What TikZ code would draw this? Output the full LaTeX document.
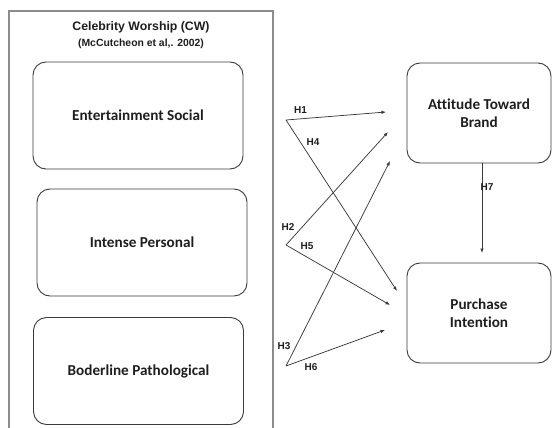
\documentclass[tikz,border=0pt]{standalone}
\usepackage{fontspec}
\setmainfont{Carlito}[Ligatures=NoCommon]
\newfontfamily\arialfont{Liberation Sans}
\usetikzlibrary{arrows.meta}
\definecolor{ink}{HTML}{1E1E1E}
\definecolor{edge}{HTML}{3A3A3A}
\definecolor{framegray}{HTML}{8C8C8C}
\tikzset{
  box/.style={draw=edge,rounded corners=13pt,line width=0.9pt,align=center,
    inner sep=0pt,font=\bfseries\fontsize{15.2}{17.5}\selectfont,text=ink},
  cwbox/.style={box,minimum width=210pt,minimum height=107pt},
  outbox/.style={box,minimum width=144pt,minimum height=100pt},
  frame/.style={draw=framegray,line width=1.6pt},
  hyp/.style={font=\arialfont\bfseries\fontsize{10}{11}\selectfont,text=ink,inner sep=0pt},
  flow/.style={-{Latex[length=4.5pt,width=3.5pt]},draw=edge,line width=0.75pt}
}

\begin{document}
\begin{tikzpicture}[x=1pt,y=-1pt]
  \useasboundingbox (0,0) rectangle (552,428);
  \draw[frame] (9,11) rectangle (273,436);
  \node[font=\arialfont\bfseries\fontsize{12.3}{14}\selectfont,text=ink] (cwtitle) at (141,27)
    {Celebrity Worship (CW)};
  \node[font=\arialfont\bfseries\fontsize{10.4}{12}\selectfont,text=ink] (cwref) at (141,43.5)
    {(McCutcheon et al,. 2002)};

  \node[cwbox] (es) at (138,115.5) {Entertainment Social};
  \node[cwbox] (ip) at (142,242.5) {Intense Personal};
  \node[cwbox] (bp) at (138.5,371) {Boderline Pathological};
  \node[outbox] (atb) at (479,113) {Attitude Toward\\Brand};
  \node[outbox] (pi) at (479,313) {Purchase\\Intention};

  % free ends of the hypothesis arrows
  \coordinate (fromes) at (286,120);
  \coordinate (fromip) at (286,245);
  \coordinate (frombp) at (286,366);
  \coordinate (toatb1) at (386,112);
  \coordinate (toatb2) at (388,132);
  \coordinate (toatb3) at (390,161);
  \coordinate (topi1) at (397,291);
  \coordinate (topi2) at (390,305);
  \coordinate (topi3) at (385,330);
  \coordinate (topi) at (482,253);

  \draw[flow] (fromes) -- (toatb1);
  \draw[flow] (fromes) -- (topi1);
  \draw[flow] (fromip) -- (toatb2);
  \draw[flow] (fromip) -- (topi2);
  \draw[flow] (frombp) -- (toatb3);
  \draw[flow] (frombp) -- (topi3);
  \draw[flow] (atb.south -| topi) -- (topi);

  \node[hyp] (h1) at (300.5,110) {H1};
  \node[hyp] (h4) at (313,142) {H4};
  \node[hyp] (h2) at (288,227) {H2};
  \node[hyp] (h5) at (307,246) {H5};
  \node[hyp] (h3) at (284,346) {H3};
  \node[hyp] (h6) at (311,367) {H6};
  \node[hyp] (h7) at (487,187) {H7};
\end{tikzpicture}
\end{document}
